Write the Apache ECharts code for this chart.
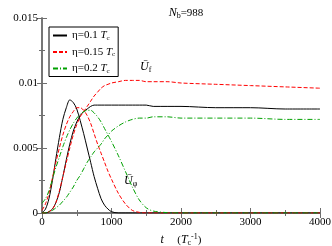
<!DOCTYPE html>
<html><head><meta charset="utf-8">
<script src="https://cdn.jsdelivr.net/npm/echarts@6/dist/echarts.min.js"></script>
<style>html,body{margin:0;padding:0;background:#fff}#c{width:332px;height:246px}</style>
</head><body><div id="c"></div>
<script>
var times = [0,50,100,150,200,250,300,350,400,450,500,550,600,650,700,750,800,850,900,950,1000,1100,1200,1300,1400,1500,1600,1800,2000,2500,3000,3500,4000];
var blackPhi = [0,0.0003,0.0011,0.0025,0.0042,0.0058,0.0072,0.0081,0.0087,0.0085,0.0080,0.0071,0.0061,0.0050,0.0039,0.0028,0.0019,0.0011,0.0006,0.0003,0.0001,0,0,0,0,0,0,0,0,0,0,0,0];
var blackF = [0,0,0.0001,0.0003,0.0008,0.0016,0.0028,0.0041,0.0053,0.0063,0.0070,0.0075,0.0078,0.0080,0.0082,0.0083,0.0083,0.0083,0.0083,0.0083,0.0083,0.0083,0.0083,0.0083,0.0083,0.0083,0.0082,0.0082,0.0082,0.0081,0.0081,0.0080,0.0080];
var redPhi = [0.0002,0.0007,0.0015,0.0027,0.0039,0.0050,0.0060,0.0068,0.0074,0.0078,0.0081,0.0081,0.0079,0.0075,0.0069,0.0061,0.0053,0.0046,0.0039,0.0032,0.0026,0.0015,0.0007,0.0002,0.00005,0,0,0,0,0,0,0,0];
var redF = [0,0,0.0001,0.0003,0.0008,0.0017,0.0028,0.0039,0.0050,0.0060,0.0068,0.0074,0.0078,0.0082,0.0086,0.0090,0.0093,0.0096,0.0098,0.0099,0.0100,0.0101,0.0102,0.0102,0.0102,0.0101,0.0101,0.0101,0.0100,0.0099,0.0098,0.0097,0.0096];
var greenPhi = [0.00075,0.0011,0.0017,0.0026,0.0035,0.0043,0.0051,0.0058,0.0064,0.0069,0.0073,0.0076,0.0078,0.0079,0.0079,0.0077,0.0074,0.0070,0.0065,0.0060,0.0055,0.0044,0.0032,0.0020,0.0010,0.0004,0.00015,0.00003,0,0,0,0,0];
var greenF = [0,0,0.0001,0.0002,0.0004,0.0006,0.0009,0.0012,0.0016,0.0020,0.0025,0.0029,0.0034,0.0039,0.0043,0.0047,0.0050,0.0053,0.0057,0.0060,0.0063,0.0067,0.0070,0.0072,0.0073,0.0073,0.0074,0.0074,0.0073,0.0073,0.0073,0.0072,0.0072];
var seriesNames = ['η=0.1 {i|T}{s|c}', 'η=0.15 {i|T}{s|c}', 'η=0.2 {i|T}{s|c}'];
var xTickLabels = ['0','1000','2000','3000','4000'];
var yTickLabels = ['0','0.005','0.01','0.015'];

function pairs(v){ return times.map(function(t,i){ return [t, v[i]]; }); }
var F = "'Liberation Serif', 'DejaVu Serif', serif";
var frame = '#6e6e6e';
var rich = {
  i:{fontFamily:F, fontStyle:'italic', fontSize:12, color:'#000'},
  n:{fontFamily:F, fontSize:11, color:'#000'},
  s:{fontFamily:F, fontSize:8, color:'#000', verticalAlign:'bottom', padding:[6,0,0,0]},
  sup:{fontFamily:F, fontSize:8, color:'#000', verticalAlign:'top', padding:[0,0,6,0]}
};
var richL = {
  i:{fontFamily:F, fontStyle:'italic', fontSize:11, color:'#000'},
  s:{fontFamily:F, fontSize:7, color:'#000', verticalAlign:'bottom', padding:[5,0,0,0]}
};
function mkSeries(name, data, color, type){
  return {type:'line', name:name, data:pairs(data), smooth:0.3, showSymbol:false, symbol:'none',
    lineStyle:{color:color, width:1, type:type}, itemStyle:{color:color}, silent:true, animation:false};
}
var chart = echarts.init(document.getElementById('c'), null, {renderer:'canvas'});
var axisCommon = {
  min:0, axisLine:{show:true, lineStyle:{color:frame, width:1.5}},
  axisTick:{show:true, inside:true, length:5, lineStyle:{color:frame}},
  minorTick:{show:true, splitNumber:2, length:3, lineStyle:{color:frame}},
  splitLine:{show:false}
};
chart.setOption({
  animation:false,
  title:{text:'{i|N}{s|b}{n|=988}', left:181, top:1, textAlign:'center',
    textStyle:{rich:rich, fontFamily:F, fontSize:11, fontWeight:'normal'}},
  grid:{left:42, right:12, top:18, bottom:33, containLabel:false, outerBoundsMode:'none'},
  legend:{show:true, orient:'vertical', left:49, top:27, padding:[3,3,2,3],
    borderColor:'#000', borderWidth:1, backgroundColor:'#fff',
    itemWidth:14, itemHeight:11, itemGap:5,
    itemStyle:{color:'rgba(0,0,0,0)', borderWidth:0, borderColor:'rgba(0,0,0,0)'},
    data:[{name:seriesNames[0]},{name:seriesNames[1]},{name:seriesNames[2]}],
    textStyle:{fontFamily:F, fontSize:11, color:'#000', rich:richL}},
  xAxis:[
    Object.assign({}, axisCommon, {type:'value', max:4000, interval:1000, position:'bottom',
      axisLabel:{fontFamily:F, fontSize:11, color:'#000', margin:4, formatter:function(v){ return xTickLabels[Math.round(v/1000)]; }},
      name:'{i|t}    {n|(}{i|T}{s|c}{sup|-1}{n|)}', nameLocation:'middle', nameGap:9,
      nameTextStyle:{rich:rich}}),
    Object.assign({}, axisCommon, {type:'value', max:4000, interval:1000, position:'top', axisLabel:{show:false}})
  ],
  yAxis:[
    Object.assign({}, axisCommon, {type:'value', max:0.015, interval:0.005, position:'left',
      axisLabel:{fontFamily:F, fontSize:11, color:'#000', margin:4, formatter:function(v){ return yTickLabels[Math.round(v/0.005)]; }},
      name:'Ū', nameLocation:'middle', nameGap:31, nameRotate:90,
      nameTextStyle:{fontFamily:F, fontStyle:'italic', fontSize:13, color:'#000'}}),
    Object.assign({}, axisCommon, {type:'value', max:0.015, interval:0.005, position:'right', axisLabel:{show:false}})
  ],
  series:[
    mkSeries(seriesNames[0], blackPhi, '#000000', 'solid'),
    mkSeries(seriesNames[0], blackF, '#000000', 'solid'),
    mkSeries(seriesNames[1], redPhi, '#ff0000', [4,2]),
    mkSeries(seriesNames[1], redF, '#ff0000', [4,2]),
    mkSeries(seriesNames[2], greenPhi, '#00a000', [5,2,1,2]),
    mkSeries(seriesNames[2], greenF, '#00a000', [5,2,1,2])
  ],
  graphic:[
    {type:'text', left:140, top:61, style:{text:'{i|Ū}{s|f}', rich:rich}},
    {type:'text', left:124, top:175, style:{text:'{i|Ū}{s|φ}', rich:rich}}
  ]
});
</script></body></html>
